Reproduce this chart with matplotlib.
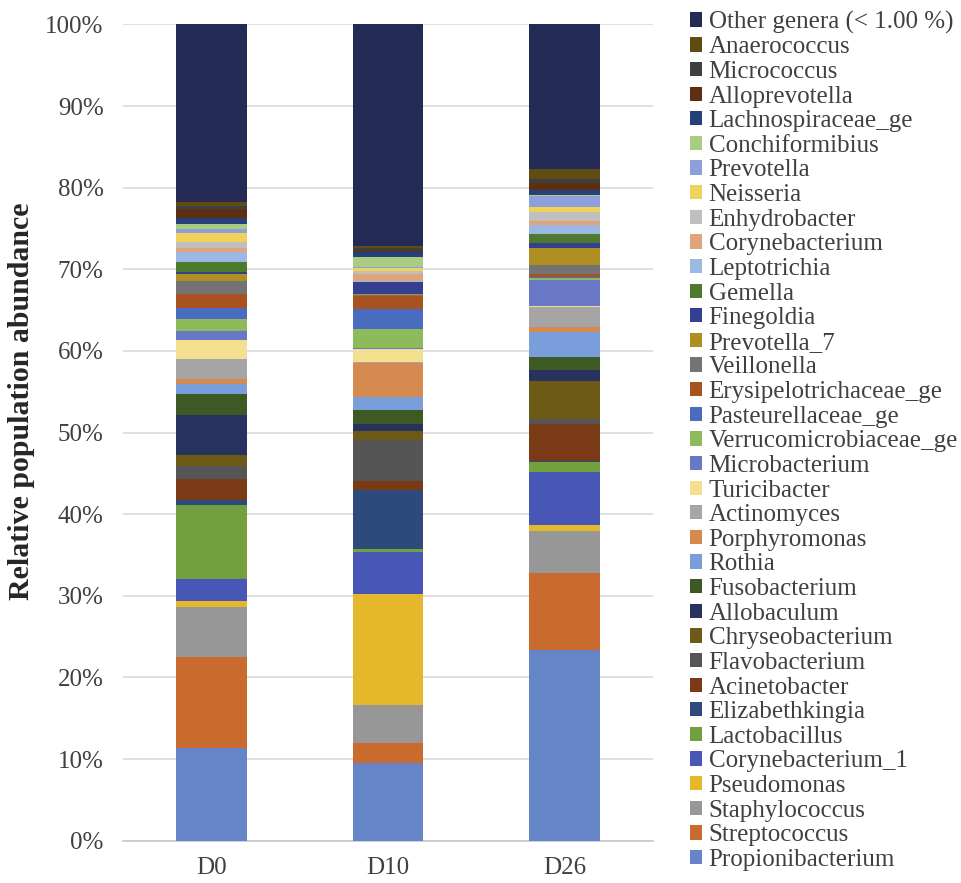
import matplotlib
matplotlib.use("Agg")
import matplotlib.pyplot as plt
import numpy as np
from matplotlib.patches import Patch

plt.rcParams['font.family'] = ['Liberation Serif', 'DejaVu Serif']

samples = ["D0", "D10", "D26"]

# genera, bottom to top of the stack
genera = [
    "Propionibacterium", "Streptococcus", "Staphylococcus", "Pseudomonas",
    "Corynebacterium_1", "Lactobacillus", "Elizabethkingia", "Acinetobacter",
    "Flavobacterium", "Chryseobacterium", "Allobaculum", "Fusobacterium",
    "Rothia", "Porphyromonas", "Actinomyces", "Turicibacter", "Microbacterium",
    "Verrucomicrobiaceae_ge", "Pasteurellaceae_ge", "Erysipelotrichaceae_ge",
    "Veillonella", "Prevotella_7", "Finegoldia", "Gemella", "Leptotrichia",
    "Corynebacterium", "Enhydrobacter", "Neisseria", "Prevotella",
    "Conchiformibius", "Lachnospiraceae_ge", "Alloprevotella", "Micrococcus",
    "Anaerococcus", "Other genera (< 1.00 %)",
]

d0 = [11.3, 11.2, 6.1, 0.8, 2.7, 9.0, 0.7, 2.5, 1.6, 1.3, 4.9, 2.6, 1.2, 0.7,
      2.4, 2.3, 1.2, 1.4, 1.4, 1.7, 1.6, 0.8, 0.3, 1.2, 1.2, 0.5, 0.7, 1.2,
      0.5, 0.6, 0.7, 1.1, 0.4, 0.4, 21.8]
d10 = [9.5, 2.5, 4.6, 13.6, 5.2, 0.3, 7.3, 1.1, 5.0, 1.1, 0.9, 1.7, 1.5, 4.2,
       0.1, 1.7, 0.1, 2.3, 2.4, 1.6, 0.2, 0.1, 1.4, 0.1, 0.1, 0.8, 0.4, 0.4,
       0.1, 1.2, 0.6, 0.2, 0.3, 0.3, 27.1]
d26 = [23.4, 9.4, 5.1, 0.7, 6.5, 1.3, 0.1, 4.5, 0.6, 4.7, 1.3, 1.6, 3.1, 0.6,
       2.4, 0.2, 3.1, 0.3, 0.1, 0.3, 1.2, 2.1, 0.6, 1.1, 1.0, 0.6, 1.1, 0.5,
       1.4, 0.1, 0.7, 0.8, 0.5, 1.2, 17.7]

colors = [
    "#6685C8", "#C96A2E", "#979797", "#E5B72A", "#4857B5", "#72A03F",
    "#2E4A7D", "#7A3A16", "#555555", "#6E5A17", "#28325F", "#3E5A24",
    "#7A9EDB", "#D68A50", "#A5A5A5", "#F2E08F", "#6877C6", "#8DBA5A",
    "#4A6CC0", "#A8521F", "#737373", "#B08F22", "#343F8F", "#4E7A2D",
    "#9DB8E3", "#E0A47A", "#BFBFBF", "#F0D15A", "#8E9FDB", "#A7CC82",
    "#27407A", "#5E2E12", "#3F3F3F", "#5F4C12", "#222A55",
]

data = np.array([d0, d10, d26], dtype=float)
data = data / data.sum(axis=1, keepdims=True)  # normalise to 100 %

fig = plt.figure(figsize=(9.62, 8.83), dpi=100)
ax = fig.add_axes([0.1279, 0.0479, 0.6788 - 0.1279, 0.9723 - 0.0479])

x = np.arange(len(samples))
bottom = np.zeros(len(samples))
for i, g in enumerate(genera):
    ax.bar(x, data[:, i], 0.4, bottom=bottom, color=colors[i], label=g,
           linewidth=0, zorder=3)
    bottom += data[:, i]

ax.set_xlim(-0.5, 2.5)
ax.set_ylim(0, 1.0)
ax.set_yticks(np.arange(0, 1.01, 0.1))
ax.set_yticklabels([f"{int(v)}%" for v in np.arange(0, 101, 10)])
ax.set_xticks(x)
ax.set_xticklabels(samples)
ax.tick_params(axis='both', length=0, labelsize=18, colors="#404040")
ax.tick_params(axis='y', pad=14)
ax.tick_params(axis='x', pad=12)
ax.grid(axis='y', color="#D9D9D9", linewidth=1.2, zorder=0)
for s in ["top", "right", "left"]:
    ax.spines[s].set_visible(False)
ax.spines["bottom"].set_color("#C8C8C8")
ax.spines["bottom"].set_linewidth(1.2)
ax.set_ylabel("Relative population abundance", fontsize=21.5, fontweight="bold",
              color="#262626")
ax.yaxis.set_label_coords(-0.166, 0.538)

handles = [Patch(facecolor=colors[i], edgecolor='none', label=genera[i])
           for i in range(len(genera))][::-1]
leg = fig.legend(handles=handles, loc="upper left",
                 bbox_to_anchor=(0.717, 0.988), frameon=False, fontsize=18,
                 handlelength=0.5, handleheight=0.5, handletextpad=0.25,
                 labelspacing=0.105, borderaxespad=0, borderpad=0)
for t in leg.get_texts():
    t.set_color("#404040")

fig.savefig("out.png", dpi=100)
